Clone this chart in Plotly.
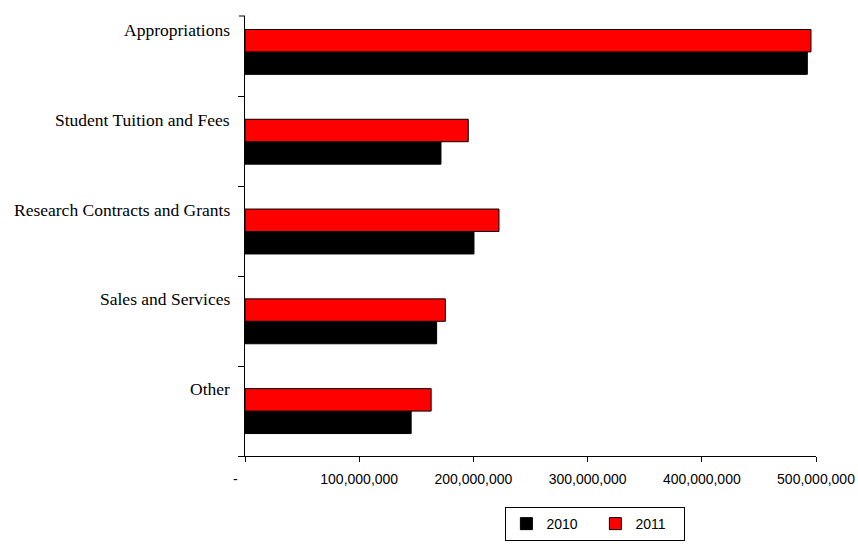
import plotly.graph_objects as go

categories = ["Other", "Sales and Services", "Research Contracts and Grants",
              "Student Tuition and Fees", "Appropriations"]
values_2010 = [145_500_000, 167_800_000, 200_500_000, 171_600_000, 492_400_000]
values_2011 = [163_000_000, 175_400_000, 222_400_000, 195_500_000, 495_600_000]
x_tickvals = [0, 100_000_000, 200_000_000, 300_000_000, 400_000_000, 500_000_000]
x_ticktext = ["-" + "\u00a0" * 5, "100,000,000", "200,000,000", "300,000,000",
              "400,000,000", "500,000,000"]

fig = go.Figure()
fig.add_trace(go.Bar(
    y=categories, x=values_2010, orientation="h", name="2010",
    marker=dict(color="#000000", line=dict(color="#000000", width=1)),
))
fig.add_trace(go.Bar(
    y=categories, x=values_2011, orientation="h", name="2011",
    marker=dict(color="#ff0000", line=dict(color="#000000", width=1)),
))

annotations = []
for c in categories:
    annotations.append(dict(
        x=0, xref="paper", y=c, yref="y", text=c, showarrow=False,
        xanchor="right", yanchor="middle", xshift=-13, yshift=22,
        font=dict(family="Liberation Serif, Times New Roman, serif", size=17.5, color="#000000"),
    ))

fig.update_layout(
    width=858, height=544,
    margin=dict(l=245, r=42, t=16, b=88, autoexpand=False),
    paper_bgcolor="#ffffff", plot_bgcolor="#ffffff",
    barmode="group", bargap=0.5, bargroupgap=0,
    showlegend=True,
    legend=dict(
        orientation="h", x=0.456, xanchor="left", y=-0.116, yanchor="top",
        bordercolor="#000000", borderwidth=1, bgcolor="#ffffff",
        font=dict(family="Liberation Sans, Arial, sans-serif", size=14, color="#000000"),
        traceorder="normal", entrywidth=44, entrywidthmode="pixels",
    ),
    xaxis=dict(
        range=[0, 500_000_000], tickvals=x_tickvals, ticktext=x_ticktext,
        showgrid=False, zeroline=False, showline=True, linecolor="#000000", linewidth=1,
        ticks="outside", ticklen=5, tickcolor="#000000", automargin=False,
        ticklabelstandoff=5,
        tickfont=dict(family="Liberation Sans, Arial, sans-serif", size=14, color="#000000"),
        fixedrange=True,
    ),
    yaxis=dict(
        type="category", categoryorder="array", categoryarray=categories,
        range=[-0.5, 4.4], showticklabels=False, automargin=False,
        showgrid=False, zeroline=False, showline=True, linecolor="#000000", linewidth=1,
        ticks="outside", tickson="boundaries", ticklen=6, tickcolor="#000000",
        fixedrange=True,
    ),
    annotations=annotations,
    shapes=[dict(type="line", xref="paper", yref="paper", xsizemode="pixel", xanchor=0,
                 x0=-6, x1=0, y0=1, y1=1, line=dict(color="#000000", width=1))],
)

fig.write_html("out.html")
